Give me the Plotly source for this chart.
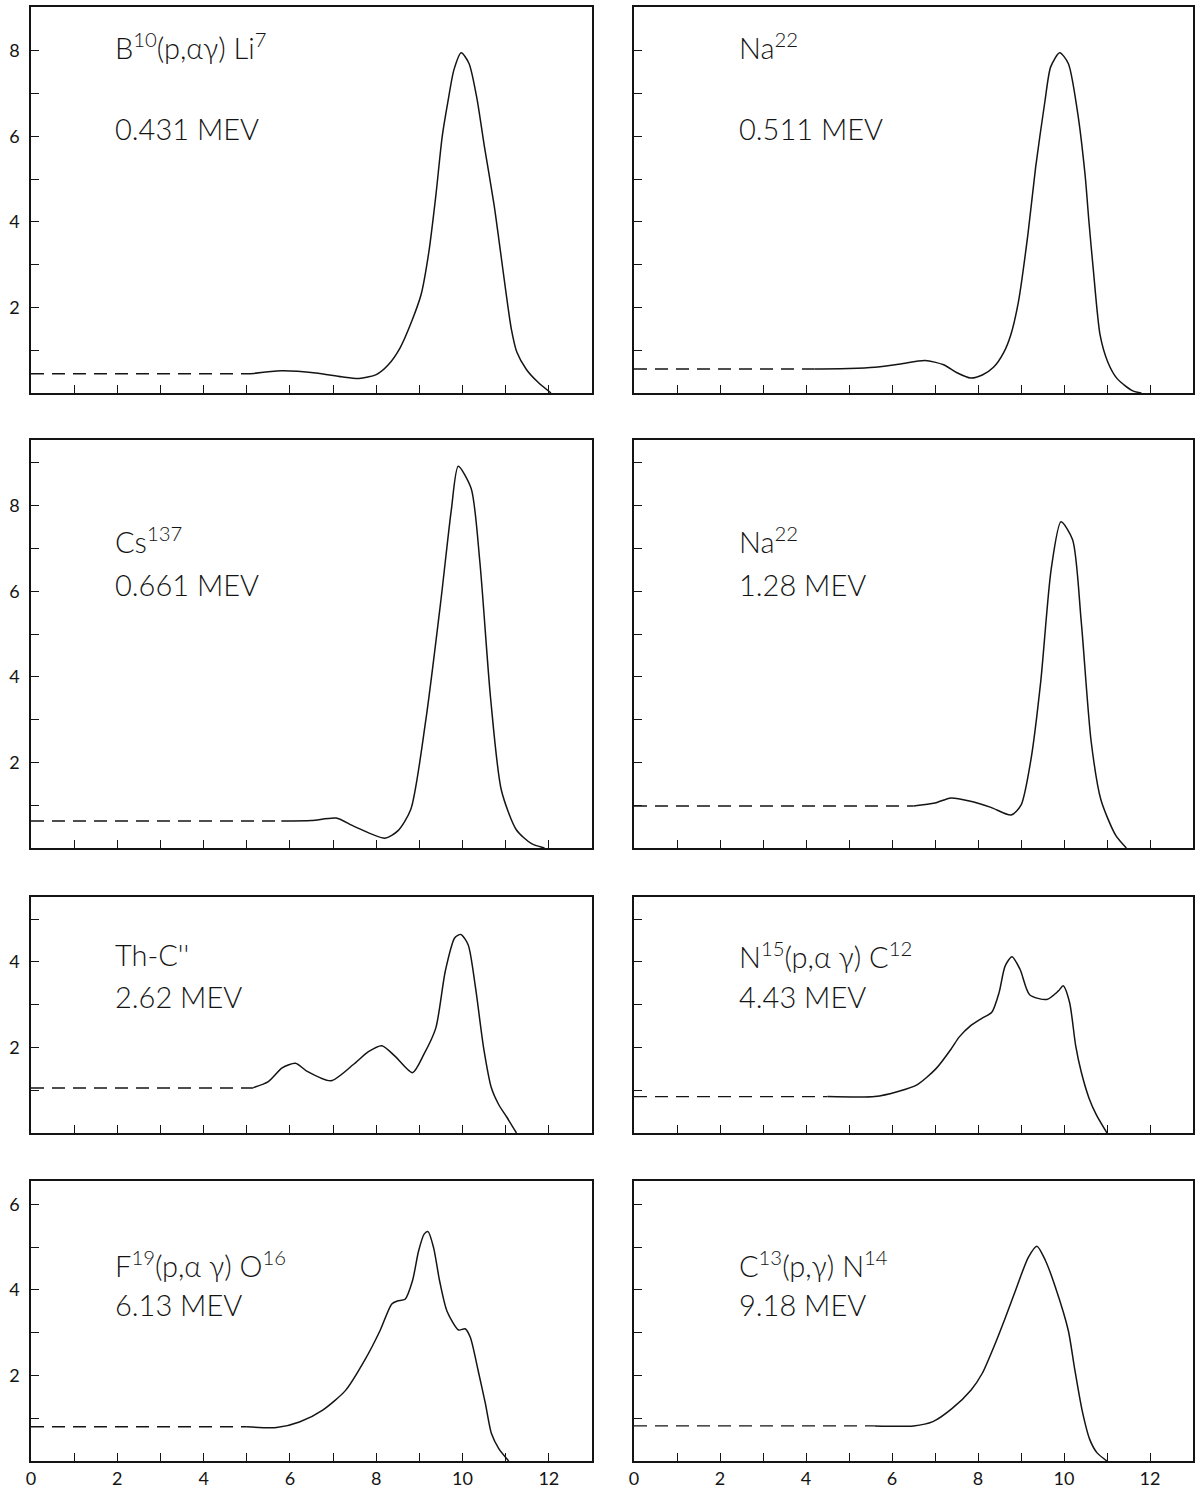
import plotly.graph_objects as go

# ---- spectra: baseline level, end of dashed baseline, and the traced curve ----
b10_base, b10_dash_end = 0.45, 5.1
b10_x = [5.1, 5.8, 6.6, 7.2, 7.6, 8.0, 8.28, 8.55, 8.82, 9.04, 9.22, 9.38, 9.53, 9.66, 9.8, 9.97,
         10.15, 10.33, 10.5, 10.73, 10.88, 11.0, 11.13, 11.26, 11.48, 11.75, 12.05]
b10_y = [0.45, 0.52, 0.47, 0.38, 0.34, 0.43, 0.66, 1.05, 1.67, 2.3, 3.3, 4.6, 6.0, 6.8, 7.55, 7.95,
         7.7, 6.9, 5.8, 4.4, 3.3, 2.4, 1.5, 0.95, 0.55, 0.25, 0.0]

na511_base, na511_dash_end = 0.56, 4.2
na511_x = [4.2, 5.0, 5.6, 6.2, 6.77, 7.2, 7.5, 7.83, 8.1, 8.36, 8.6, 8.76, 8.94, 9.16, 9.34, 9.56,
           9.69, 9.9, 10.1, 10.31, 10.49, 10.58, 10.68, 10.84, 11.02, 11.24, 11.6, 11.8]
na511_y = [0.56, 0.57, 0.6, 0.68, 0.76, 0.66, 0.48, 0.35, 0.42, 0.6, 0.95, 1.35, 2.13, 3.7, 5.27, 6.84,
           7.62, 7.95, 7.7, 6.6, 5.1, 4.0, 2.9, 1.35, 0.72, 0.33, 0.05, 0.0]

cs137_base, cs137_dash_end = 0.63, 5.8
cs137_x = [5.8, 6.5, 7.07, 7.5, 8.2, 8.5, 8.8, 9.15, 9.5, 9.74, 9.9, 10.2, 10.4, 10.65, 10.9, 11.25,
           11.6, 11.9]
cs137_y = [0.63, 0.64, 0.7, 0.5, 0.23, 0.4, 0.9, 3.0, 5.8, 7.9, 8.92, 8.4, 6.7, 3.5, 1.35, 0.42,
           0.1, 0.0]

na128_base, na128_dash_end = 0.98, 6.5
na128_x = [6.5, 7.0, 7.37, 7.8, 8.3, 8.77, 9.0, 9.23, 9.46, 9.7, 9.93, 10.2, 10.4, 10.63, 10.86,
           11.2, 11.45]
na128_y = [0.98, 1.05, 1.17, 1.1, 0.95, 0.77, 1.0, 2.06, 3.9, 6.5, 7.62, 7.2, 5.3, 2.5, 1.12,
           0.3, 0.0]

thc_base, thc_dash_end = 1.05, 5.15
thc_x = [5.15, 5.5, 5.82, 6.13, 6.4, 6.95, 7.47, 7.82, 8.13, 8.44, 8.84, 9.1, 9.38, 9.6, 9.82, 9.96,
         10.13, 10.3, 10.49, 10.67, 10.84, 11.02, 11.25]
thc_y = [1.06, 1.2, 1.52, 1.63, 1.44, 1.22, 1.6, 1.9, 2.04, 1.79, 1.41, 1.83, 2.45, 3.78, 4.56, 4.64,
         4.4, 3.4, 1.98, 1.05, 0.66, 0.38, 0.0]

n15_base, n15_dash_end = 0.85, 4.5
n15_x = [4.5, 5.6, 6.14, 6.59, 7.03, 7.38, 7.56, 7.83, 8.09, 8.32, 8.49, 8.63, 8.79, 8.98, 9.2, 9.6,
         9.87, 9.98, 10.13, 10.27, 10.4, 10.58, 10.75, 11.0]
n15_y = [0.85, 0.85, 0.97, 1.13, 1.51, 1.97, 2.24, 2.51, 2.68, 2.82, 3.28, 3.9, 4.12, 3.82, 3.23, 3.12,
         3.32, 3.44, 3.05, 2.05, 1.43, 0.82, 0.43, 0.0]

f19_base, f19_dash_end = 0.8, 5.0
f19_x = [5.0, 5.69, 6.22, 6.76, 7.29, 7.73, 8.09, 8.36, 8.49, 8.67, 8.84, 8.98, 9.11, 9.2, 9.33, 9.47,
         9.64, 9.91, 10.06, 10.18, 10.36, 10.53, 10.67, 10.84, 11.07]
f19_y = [0.8, 0.78, 0.91, 1.19, 1.65, 2.35, 3.05, 3.67, 3.74, 3.78, 4.21, 4.9, 5.3, 5.36, 4.98, 4.2,
         3.5, 3.06, 3.09, 2.89, 2.12, 1.34, 0.64, 0.29, 0.0]

c13_base, c13_dash_end = 0.82, 5.6
c13_x = [5.6, 6.5, 6.95, 7.4, 7.84, 8.1, 8.37, 8.64, 8.9, 9.17, 9.37, 9.57, 9.8, 10.1, 10.24, 10.42,
         10.6, 10.77, 11.0]
c13_y = [0.82, 0.82, 0.92, 1.23, 1.66, 2.05, 2.67, 3.36, 4.06, 4.76, 5.02, 4.68, 4.06, 3.05, 2.2, 1.19,
         0.5, 0.19, 0.0]

# ---- panel labels ----
source_labels = ["B<sup>10</sup>(p,αγ) Li<sup>7</sup>", "Na<sup>22</sup>",
                 "Cs<sup>137</sup>", "Na<sup>22</sup>",
                 "Th-C''", "N<sup>15</sup>(p,α γ) C<sup>12</sup>",
                 "F<sup>19</sup>(p,α γ) O<sup>16</sup>", "C<sup>13</sup>(p,γ) N<sup>14</sup>"]
energy_labels = ["0.431 MEV", "0.511 MEV", "0.661 MEV", "1.28 MEV",
                 "2.62 MEV", "4.43 MEV", "6.13 MEV", "9.18 MEV"]

x_tick_vals = [0, 2, 4, 6, 8, 10, 12]
x_tick_labels = ["0", "2", "4", "6", "8", "10", "12"]
y_tick_vals = [2, 4, 6, 8]
y_tick_labels = ["2", "4", "6", "8"]

panels = [
    (b10_x, b10_y, b10_base, b10_dash_end),
    (na511_x, na511_y, na511_base, na511_dash_end),
    (cs137_x, cs137_y, cs137_base, cs137_dash_end),
    (na128_x, na128_y, na128_base, na128_dash_end),
    (thc_x, thc_y, thc_base, thc_dash_end),
    (n15_x, n15_y, n15_base, n15_dash_end),
    (f19_x, f19_y, f19_base, f19_dash_end),
    (c13_x, c13_y, c13_base, c13_dash_end),
]

# ---- page geometry (pixels) ----
W, H = 1199, 1488
col_px = [(31, 592), (634, 1193)]
row_px = [(7, 393), (440, 848), (897, 1133), (1181, 1461)]
PX_PER_UNIT = 42.8
label_y = [(8.1, 6.17), (7.2, 6.15), (4.16, 3.18), (4.6, 3.66)]
label_x = [1.9, 2.4]

INK = "#141414"
FONT = "Lato"

fig = go.Figure()
layout = dict(
    template="none",
    width=W, height=H, margin=dict(l=0, r=0, t=0, b=0),
    paper_bgcolor="white", plot_bgcolor="white", showlegend=False,
    font=dict(family=FONT, size=18, color=INK),
    annotations=[],
)

tick_style = dict(ticks="inside", ticklen=8, tickwidth=1.3, tickcolor=INK)

for i, (px_, py_, base, dash_end) in enumerate(panels):
    r, c = divmod(i, 2)
    n = i + 1
    xa = "x" if n == 1 else f"x{n}"
    ya = "y" if n == 1 else f"y{n}"
    top, bot = row_px[r]
    left, right = col_px[c]
    ymax = (bot - top) / PX_PER_UNIT

    # dashed background level
    fig.add_trace(go.Scatter(x=[0, dash_end], y=[base, base], xaxis=xa, yaxis=ya, mode="lines",
                             line=dict(color=INK, width=1.4, dash="13px,8px"), hoverinfo="skip"))
    # measured pulse-height curve
    fig.add_trace(go.Scatter(x=px_, y=py_, xaxis=xa, yaxis=ya, mode="lines",
                             line=dict(color=INK, width=1.5, shape="spline", smoothing=0.7),
                             hoverinfo="skip"))

    bottom_row = r == len(row_px) - 1
    xkey = "xaxis" if n == 1 else f"xaxis{n}"
    ykey = "yaxis" if n == 1 else f"yaxis{n}"
    layout[xkey] = dict(
        domain=[left / W, right / W], anchor=ya, range=[0, 13],
        showgrid=False, zeroline=False, showline=True, linecolor=INK, linewidth=1.6, mirror=True,
        tickmode="array", tickvals=x_tick_vals, ticktext=x_tick_labels,
        showticklabels=bottom_row, ticklabelstandoff=1,
        minor=dict(dtick=1, tick0=0, showgrid=False, **tick_style),
        tickfont=dict(family=FONT, size=18, color=INK),
        **tick_style,
    )
    yv = [v for v in y_tick_vals if v < ymax]
    layout[ykey] = dict(
        domain=[1 - bot / H, 1 - top / H], anchor=xa, range=[0, ymax],
        showgrid=False, zeroline=False, showline=True, linecolor=INK, linewidth=1.6, mirror=True,
        tickmode="array", tickvals=yv, ticktext=y_tick_labels[:len(yv)],
        showticklabels=(c == 0), ticklabelstandoff=6,
        minor=dict(dtick=1, tick0=0, showgrid=False, **tick_style),
        tickfont=dict(family=FONT, size=18, color=INK),
        **tick_style,
    )
    y1, y2 = label_y[r]
    for txt, yy in ((source_labels[i], y1), (energy_labels[i], y2)):
        layout["annotations"].append(dict(
            text=txt, x=label_x[c], y=yy, xref=xa, yref=ya,
            xanchor="left", yanchor="middle", showarrow=False,
            font=dict(family=FONT, size=29, color=INK, weight=300)))

fig.update_layout(**layout)
fig.write_html("out.html")
